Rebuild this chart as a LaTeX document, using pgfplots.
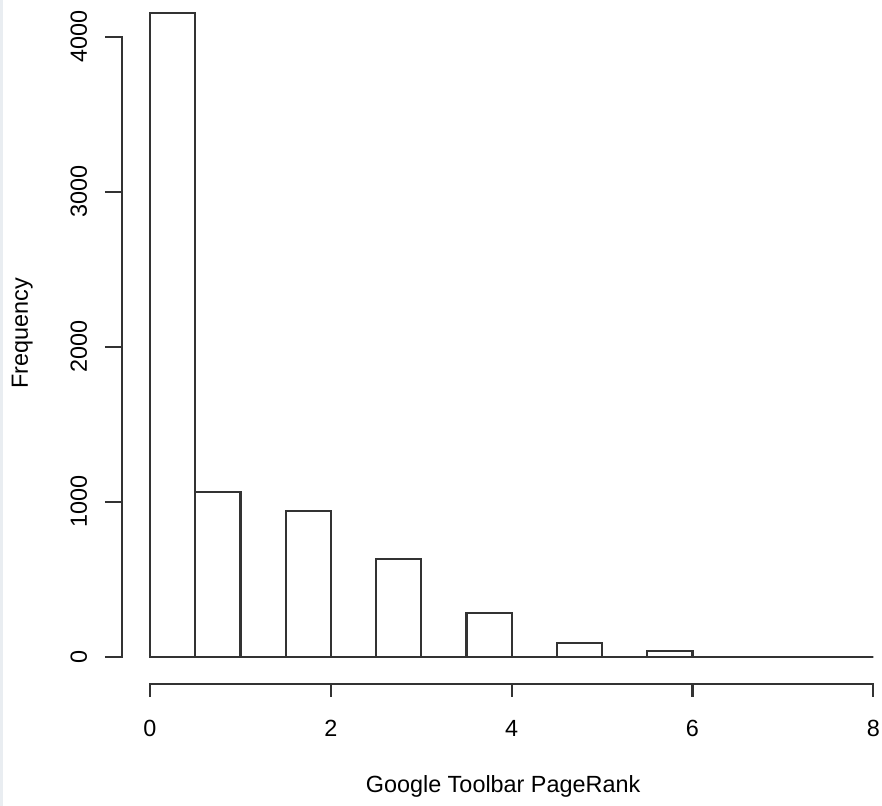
\documentclass[border=0pt]{standalone}
\usepackage{pgfplots}
\pgfplotsset{compat=1.18}
\usepackage{fontspec}
\setmainfont{Liberation Sans}
\definecolor{rline}{HTML}{333333}
\definecolor{strip}{HTML}{E9EDF1}
\begin{document}
\begin{tikzpicture}
\useasboundingbox (0,0) rectangle (441pt,403pt);
\fill[strip] (0,0) rectangle (1.5pt,403pt);
\begin{axis}[
  at={(75pt,74.65pt)}, anchor=south west,
  scale only axis, width=361.65pt, height=310pt,
  xmin=0, xmax=8, ymin=0, ymax=4000,
  clip=false,
  axis line style={draw=none},
  ticks=none,
  font=\fontsize{11.7pt}{14pt}\selectfont,
]
\addplot[ybar interval, draw=rline, line width=1.1pt, fill=white] coordinates {
(0,4151) (0.5,1060) (1,0) (1.5,942) (2,0) (2.5,632) (3,0) (3.5,280) (4,0)
(4.5,90) (5,0) (5.5,37) (6,0) (6.5,0) (7,0) (7.5,0) (8,0)
};
% R-style y axis
\draw[rline, line width=1.1pt] (axis cs:-0.50,0) -- (axis cs:-0.31,0) -- (axis cs:-0.31,4000) -- (axis cs:-0.50,4000);
\pgfplotsinvokeforeach{1000,2000,3000}{
  \draw[rline, line width=1.1pt] (axis cs:-0.50,#1) -- (axis cs:-0.31,#1);
}
\pgfplotsinvokeforeach{0,1000,2000,3000,4000}{
  \node[rotate=90, anchor=base, inner sep=0pt] at (axis cs:-0.697,#1) {#1};
}
% R-style x axis
\draw[rline, line width=1.1pt] (axis cs:0,-260) -- (axis cs:0,-174) -- (axis cs:8,-174) -- (axis cs:8,-260);
\pgfplotsinvokeforeach{2,4,6}{
  \draw[rline, line width=1.1pt] (axis cs:#1,-174) -- (axis cs:#1,-260);
}
\pgfplotsinvokeforeach{0,2,4,6,8}{
  \node[anchor=base, inner sep=0pt] at (axis cs:#1,-518) {#1};
}
% labels
\node[anchor=base, inner sep=0pt] at (axis cs:3.905,-879) {Google Toolbar PageRank};
\node[rotate=90, anchor=base, inner sep=0pt] at (axis cs:-1.35,2088) {Frequency};
\end{axis}
\end{tikzpicture}
\end{document}
